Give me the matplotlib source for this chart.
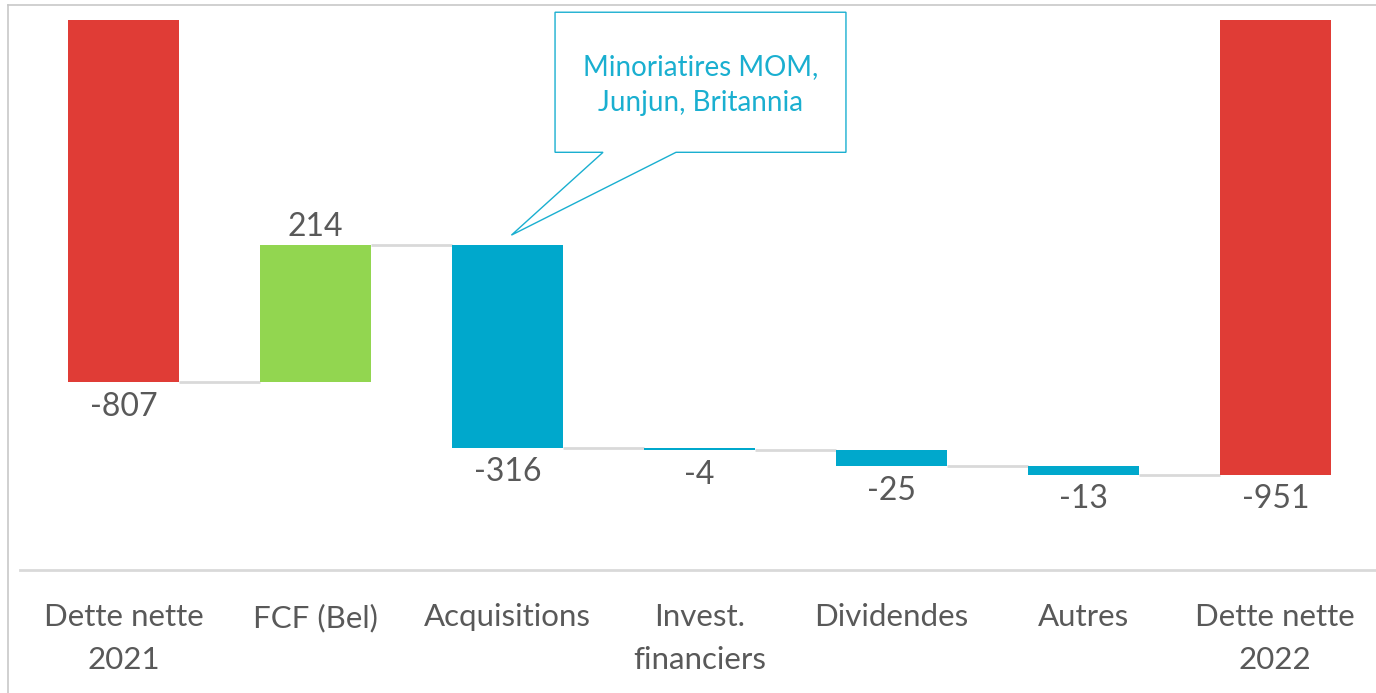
import matplotlib
matplotlib.use("Agg")
import matplotlib.pyplot as plt
from matplotlib.patches import Polygon
from matplotlib.lines import Line2D

categories = ["Dette nette\n2021", "FCF (Bel)", "Acquisitions", "Invest.\nfinanciers",
              "Dividendes", "Autres", "Dette nette\n2022"]
values = [-807, 214, -316, -4, -25, -13, -951]
is_total = [True, False, False, False, False, False, True]
callout_text = "Minoriatires MOM,\nJunjun, Britannia"

RED = "#E03C36"
GREEN = "#92D650"
BLUE = "#00A8CC"
TXT = "#595959"
CALL = "#1AAFD0"
FONT = "Lato"

W, H = 1376, 693
fig = plt.figure(figsize=(W / 100, H / 100), dpi=100)
ax = fig.add_axes([20 / W, (H - 570) / H, (1379 - 20) / W, 550 / H])

bw = 0.58
cum = 0
bottoms, heights, colors, ends = [], [], [], []
for v, t in zip(values, is_total):
    if t:
        b, h, c = 0, v, RED
        cum = v
    else:
        b, h = cum, v
        c = GREEN if v > 0 else BLUE
        cum = cum + v
    bottoms.append(b); heights.append(h); colors.append(c); ends.append(cum)

x = list(range(len(values)))
ax.bar(x, heights, bottom=bottoms, width=bw, color=colors, edgecolor="none", zorder=2)

# connectors
for i in range(len(values) - 1):
    ax.plot([i + bw / 2, i + 1 - bw / 2], [ends[i], ends[i]], color="#d9d9d9", lw=2,
            solid_capstyle="butt", zorder=1)

# value labels
for i, v in enumerate(values):
    off = 13 if v > 0 else -17.5
    ax.annotate(f"{v}", (i, ends[i]), xytext=(0, off), textcoords="offset points",
                ha="center", va="center", fontsize=23, color=TXT, family=FONT)

ax.set_xlim(-0.54, 6.54)
ax.set_ylim(-1100, -241)
ax.set_xticks(x)
ax.set_xticklabels(categories, fontsize=22.5, color=TXT, family=FONT, linespacing=1.62)
ax.tick_params(axis="x", length=0, pad=24)
ax.set_yticks([])
for s in ["top", "left", "right"]:
    ax.spines[s].set_visible(False)
ax.spines["bottom"].set_color("#d9d9d9")
ax.spines["bottom"].set_linewidth(2)

# callout (anchored to the acquisitions bar)
def px2data(px, py):
    return ((px - 123.5) / 192.0, -807 - (py - 382) / 0.64)

tip = (2 + 0.02, ends[1] + 16)
pts = [px2data(555, 12), px2data(846, 12), px2data(846, 152), px2data(676, 152),
       tip, px2data(603, 152), px2data(555, 152)]
ax.add_patch(Polygon(pts, closed=True, facecolor="white", edgecolor=CALL, lw=1,
                     clip_on=False, zorder=5))
cx, cy = px2data(701, 85)
ax.text(cx, cy, callout_text, ha="center", va="center", fontsize=20, color=CALL,
        family=FONT, linespacing=1.45, zorder=6)

# outer frame
fig.add_artist(Line2D([8 / W, 1], [1 - 5 / H, 1 - 5 / H], color="#c8c8c8", lw=1.2))
fig.add_artist(Line2D([8 / W, 8 / W], [0, 1 - 5 / H], color="#c8c8c8", lw=1.2))

fig.savefig("out.png", dpi=100)
